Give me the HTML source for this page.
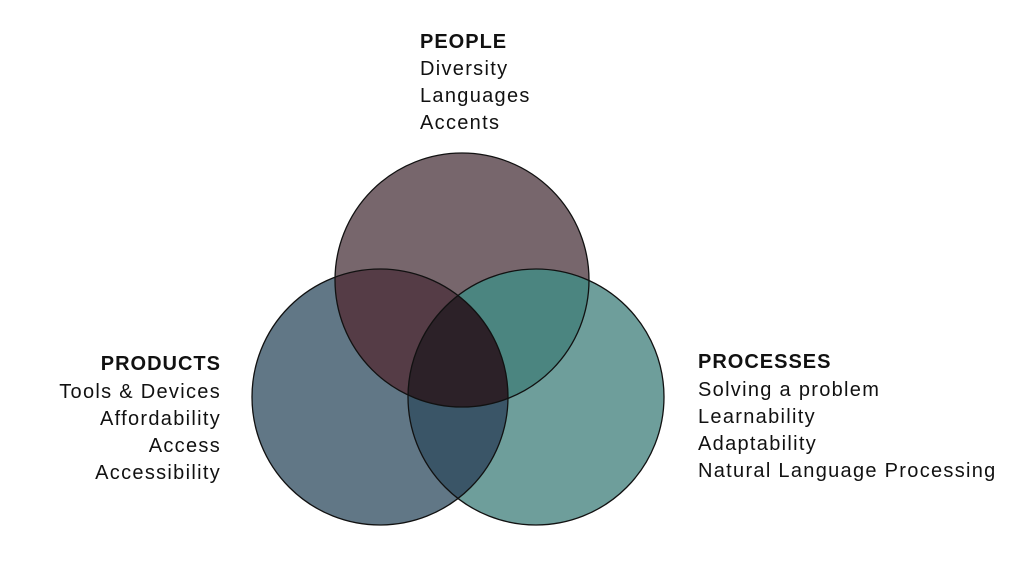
<!DOCTYPE html>
<html><head><style>
html,body{margin:0;padding:0;background:#fff;}
svg{display:block;}
text{font-family:"Liberation Sans",sans-serif;font-size:20px;fill:#111;letter-spacing:1.3px;}
.b{font-weight:bold;letter-spacing:1px;}
</style></head><body>
<svg width="1024" height="567" viewBox="0 0 1024 567">
<defs>
<clipPath id="cT"><circle cx="462" cy="280" r="127"/></clipPath>
<clipPath id="cL"><circle cx="380" cy="397" r="128"/></clipPath>
<clipPath id="cR"><circle cx="536" cy="397" r="128"/></clipPath>
</defs>
<circle cx="462" cy="280" r="127" fill="#77666c"/>
<circle cx="380" cy="397" r="128" fill="#617786"/>
<circle cx="536" cy="397" r="128" fill="#6e9e9b"/>
<g clip-path="url(#cT)">
<circle cx="380" cy="397" r="128" fill="#553c46"/>
<circle cx="536" cy="397" r="128" fill="#4b8580"/>
</g>
<g clip-path="url(#cL)">
<circle cx="536" cy="397" r="128" fill="#3a5567"/>
<g clip-path="url(#cT)"><circle cx="536" cy="397" r="128" fill="#2c2128"/></g>
</g>
<g fill="none" stroke="#111" stroke-width="1.3">
<circle cx="462" cy="280" r="127"/>
<circle cx="380" cy="397" r="128"/>
<circle cx="536" cy="397" r="128"/>
</g>
<text x="420" y="48" class="b">PEOPLE</text>
<text x="420" y="75">Diversity</text>
<text x="420" y="102">Languages</text>
<text x="420" y="129">Accents</text>
<g text-anchor="end">
<text x="221" y="370" class="b">PRODUCTS</text>
<text x="221" y="398">Tools &amp; Devices</text>
<text x="221" y="425">Affordability</text>
<text x="221" y="452">Access</text>
<text x="221" y="479">Accessibility</text>
</g>
<text x="698" y="368" class="b">PROCESSES</text>
<text x="698" y="396">Solving a problem</text>
<text x="698" y="423">Learnability</text>
<text x="698" y="450">Adaptability</text>
<text x="698" y="477">Natural Language Processing</text>
</svg>
</body></html>
